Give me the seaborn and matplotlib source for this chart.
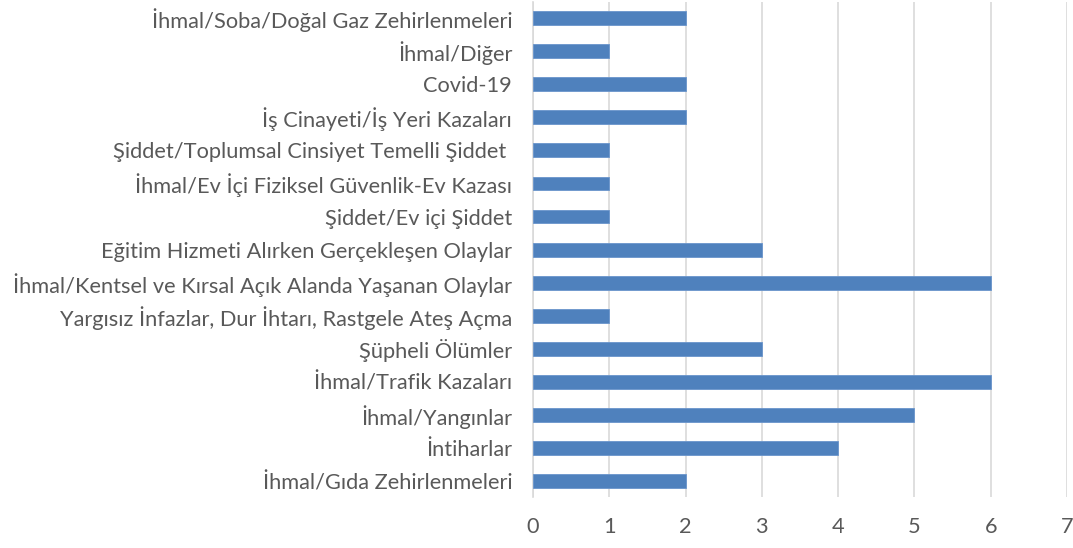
import matplotlib
matplotlib.use("Agg")
import matplotlib.pyplot as plt
import seaborn as sns
import pandas as pd

categories = [
    "İhmal/Soba/Doğal Gaz Zehirlenmeleri",
    "İhmal/Diğer",
    "Covid-19",
    "İş Cinayeti/İş Yeri Kazaları",
    "Şiddet/Toplumsal Cinsiyet Temelli Şiddet ",
    "İhmal/Ev İçi Fiziksel Güvenlik-Ev Kazası",
    "Şiddet/Ev içi Şiddet",
    "Eğitim Hizmeti Alırken Gerçekleşen Olaylar",
    "İhmal/Kentsel ve Kırsal Açık Alanda Yaşanan Olaylar",
    "Yargısız İnfazlar, Dur İhtarı, Rastgele Ateş Açma",
    "Şüpheli Ölümler",
    "İhmal/Trafik Kazaları",
    "İhmal/Yangınlar",
    "İntiharlar",
    "İhmal/Gıda Zehirlenmeleri",
]
values = [2, 1, 2, 2, 1, 1, 1, 3, 6, 1, 3, 6, 5, 4, 2]
x_ticks = [0, 1, 2, 3, 4, 5, 6, 7]

sns.set_theme(style="white")
plt.rcParams['font.family'] = ['Lato', 'DejaVu Sans']

df = pd.DataFrame({"category": categories, "value": values})

fig = plt.figure(figsize=(10.73, 5.48), dpi=100)
ax = fig.add_axes([0.4967, 0.0922, 0.4977, 0.9048])

sns.barplot(data=df, x="value", y="category", orient="h", color="#4f81bd",
            saturation=1, width=0.42, edgecolor="#6a95cc", linewidth=0.6, ax=ax, zorder=3)

ax.set_xlim(0, 7)
ax.set_xticks(x_ticks)
ax.set_xticklabels([str(t) for t in x_ticks])
ax.xaxis.grid(True, color="#d9d9d9", linewidth=1.2, zorder=0)
ax.yaxis.grid(False)
for s in ["top", "right", "bottom"]:
    ax.spines[s].set_visible(False)
ax.spines["left"].set_color("#d9d9d9")
ax.spines["left"].set_linewidth(1.2)
ax.set_xlabel("")
ax.set_ylabel("")
ax.tick_params(axis="both", length=0, labelsize=15.7, colors="#595959")
ax.tick_params(axis="y", pad=15)
ax.tick_params(axis="x", pad=14)

fig.savefig("out.png", dpi=100)
